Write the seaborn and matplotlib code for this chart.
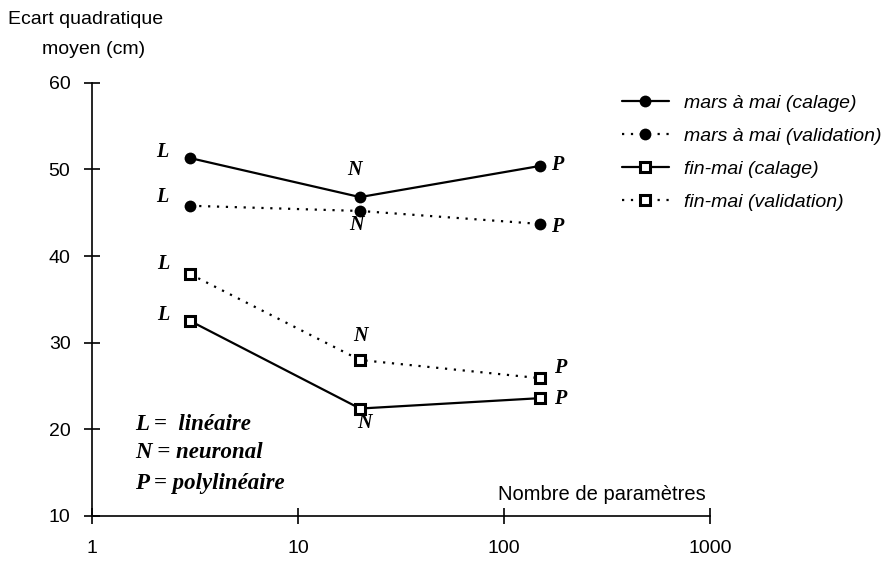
import matplotlib
matplotlib.use("Agg")
import matplotlib.pyplot as plt
import seaborn as sns
import pandas as pd

# ---- data ----
n_params = [3, 20, 150]
model_labels = ["L", "N", "P"]
mars_calage = [51.3, 46.8, 50.4]
mars_validation = [45.8, 45.2, 43.7]
fin_calage = [32.5, 22.4, 23.6]
fin_validation = [37.9, 28.0, 25.9]
series_names = ["mars à mai (calage)", "mars à mai (validation)",
                "fin-mai (calage)", "fin-mai (validation)"]
x_ticks = [1, 10, 100, 1000]
y_ticks = [10, 20, 30, 40, 50, 60]

sns.set_theme(style="white")
plt.rcParams["font.family"] = ["Liberation Sans", "DejaVu Sans"]
plt.rcParams["text.color"] = "black"

fig = plt.figure(figsize=(8.91, 5.61), dpi=100)
ax = fig.add_axes([92/891, 1-516/561, (710-92)/891, (516-82.7)/561])

all_series = [mars_calage, mars_validation, fin_calage, fin_validation]
styles = [
    dict(linestyle="-", marker="o", markerfacecolor="black", markeredgewidth=0, markersize=8.5),
    dict(linestyle=(0, (1, 3.0)), marker="o", markerfacecolor="black", markeredgewidth=0, markersize=8.5),
    dict(linestyle="-", marker="s", markerfacecolor="white", markeredgecolor="black", markeredgewidth=2.2, markersize=7),
    dict(linestyle=(0, (1, 3.0)), marker="s", markerfacecolor="white", markeredgecolor="black", markeredgewidth=2.2, markersize=7),
]
for name, vals, st in zip(series_names, all_series, styles):
    df = pd.DataFrame({"x": n_params, "y": vals})
    sns.lineplot(data=df, x="x", y="y", ax=ax, color="black", linewidth=1.6,
                 label=name, **st)

# point labels (offsets in pixels)
offsets = {
    0: [(-28, 6), (-6, 27), (17, 1)],
    1: [(-28, 9), (-4, -14), (17, -3)],
    2: [(-27, 6), (4, -14), (20, -1)],
    3: [(-27, 10), (0, 24), (20, 10)],
}
lab_font = dict(family=["Liberation Serif"], weight="bold", style="italic", size=14.5)
for i, vals in enumerate(all_series):
    for j, (xv, yv) in enumerate(zip(n_params, vals)):
        dx, dy = offsets[i][j]
        ax.annotate(model_labels[j], (xv, yv), xytext=(dx*0.72, dy*0.72),
                    textcoords="offset points", ha="center", va="center",
                    color="black", **lab_font)

ax.set_xscale("log")
ax.set_xlim(1, 1000)
ax.set_ylim(10, 60)
ax.set_xticks(x_ticks)
ax.set_xticklabels([str(t) for t in x_ticks])
ax.minorticks_off()
ax.set_yticks(y_ticks)
ax.set_yticklabels([str(t) for t in y_ticks])
ax.tick_params(axis="both", which="major", bottom=True, left=True,
               direction="inout", length=11, width=1.2,
               labelsize=14, colors="black")
ax.tick_params(axis="y", pad=10)
ax.tick_params(axis="x", pad=12)
for s in ["top", "right"]:
    ax.spines[s].set_visible(False)
for s in ["left", "bottom"]:
    ax.spines[s].set_color("black")
    ax.spines[s].set_linewidth(1.2)
ax.set_xlabel("")
ax.set_ylabel("")
ax.patch.set_alpha(0)
for l in ax.lines:
    l.set_clip_on(False)

fig.text(86/891, 1-20/561, "Ecart quadratique", ha="center", va="center", fontsize=14)
fig.text(94/891, 1-49/561, "moyen (cm)", ha="center", va="center", fontsize=14)
fig.text(706/891, 1-495/561, "Nombre de paramètres", ha="right", va="center", fontsize=14.5)

key_font = dict(family=["Liberation Serif"], weight="bold", style="italic", size=16.5)
fig.text(135/891, 1-425/561, "L =  linéaire", ha="left", va="center", **key_font)
fig.text(135/891, 1-452/561, "N = neuronal", ha="left", va="center", **key_font)
fig.text(135/891, 1-484/561, "P = polylinéaire", ha="left", va="center", **key_font)

leg = ax.legend(loc="upper left", bbox_to_anchor=(622/891, 1-94/561),
                bbox_transform=fig.transFigure, frameon=False,
                borderpad=0, borderaxespad=0,
                handlelength=2.4, labelspacing=0.8, handletextpad=0.8,
                prop=dict(family="Liberation Sans", style="italic", size=14))

fig.savefig("out.png", dpi=100)
